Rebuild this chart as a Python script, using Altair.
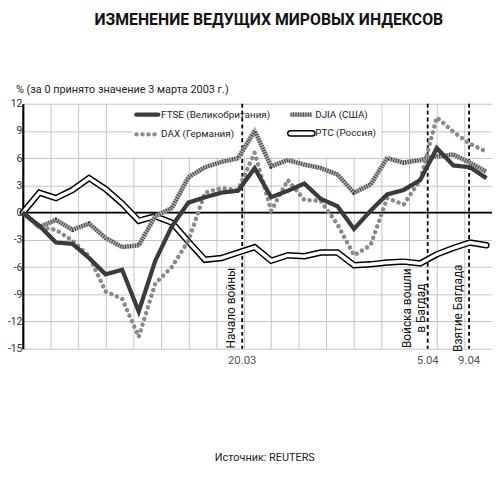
import altair as alt
import pandas as pd

# ---------------- data ----------------
dates = ["3.03", "4.03", "5.03", "6.03", "7.03", "10.03", "11.03", "12.03", "13.03", "14.03",
         "17.03", "18.03", "19.03", "20.03", "21.03", "24.03", "25.03", "26.03", "27.03", "28.03",
         "31.03", "1.04", "2.04", "3.04", "4.04", "7.04", "8.04", "9.04", "10.04"]

ftse = [0, -1.45, -3.3, -3.45, -5.0, -6.8, -6.3, -10.9, -5.3, -1.5,
        1.1, 1.7, 2.2, 2.4, 4.9, 1.7, 2.4, 3.2, 1.5, 0.7,
        -1.8, 0.2, 2.0, 2.5, 3.6, 7.1, 5.2, 5.0, 3.8]
dax = [0, -1.6, -1.9, -3.1, -4.8, -8.7, -9.5, -13.7, -7.8, -6.0,
       -3.1, 2.2, 2.7, 2.5, 6.6, 0.2, 3.6, 1.4, 1.3, -1.3,
       -4.7, -3.6, 1.6, 0.9, 3.6, 10.5, 8.9, 7.6, 6.7]
djia = [0, -1.6, -0.8, -1.9, -1.2, -2.8, -3.8, -3.6, -0.4, 0.5,
        3.9, 5.0, 5.6, 6.0, 9.0, 5.1, 5.8, 5.3, 4.9, 4.2,
        2.2, 3.1, 6.0, 5.5, 5.8, 6.2, 6.4, 5.5, 4.5]
ptc = [0, 2.2, 1.6, 2.5, 3.8, 2.6, 1.0, -0.9, -0.4, -1.1,
       -3.2, -5.2, -5.0, -4.4, -3.8, -5.3, -4.7, -4.8, -4.4, -4.4,
       -5.8, -5.7, -5.5, -5.4, -5.6, -4.6, -3.9, -3.3, -3.6]

series_keys = ["FTSE", "DAX", "DJIA", "PTC"]
series_names = ["FTSE (Великобритания)", "DAX (Германия)", "DJIA (США)", "PTC (Россия)"]

event_pos = [13.25, 24.45, 26.95]
event_dates = ["20.03", "5.04", "9.04"]
event_texts = ["Начало войны", "Войска вошли\nв Багдад", "Взятие Багдада"]

y_ticks = [-15, -12, -9, -6, -3, 0, 3, 6, 9, 12]
x_columns = 17
x_max = 85 / 3

title_text = ["ИЗМЕНЕНИЕ ВЕДУЩИХ МИРОВЫХ ИНДЕКСОВ"]
subtitle_text = ["% (за 0 принято значение 3 марта 2003 г.)"]
source_text = ["Источник: REUTERS"]

# ---------------- tables ----------------
rows = []
for i, d in enumerate(dates):
    for key, vals in zip(series_keys, [ftse, dax, djia, ptc]):
        rows.append({"i": i, "date": d, "series": key, "v": vals[i]})
df = pd.DataFrame(rows)
events = pd.DataFrame({"pos": event_pos, "date": event_dates, "label": event_texts})

W, H = 475, 248
LEFT, TOP = 15, 94
FONT = "Roboto, Liberation Sans, sans-serif"
GRID = "#c4c4c4"

x_scale = alt.Scale(domain=[0, x_max], nice=False, zero=False)
y_scale = alt.Scale(domain=[-15, 12], nice=False, zero=False)
x_axis = alt.Axis(values=[k * x_max / x_columns for k in range(x_columns + 1)], grid=True,
                  gridColor=GRID, gridWidth=1, labels=False, ticks=False, domain=False, title=None)
y_axis = alt.Axis(values=y_ticks, grid=True, gridColor=GRID, gridWidth=1, ticks=False,
                  domain=True, domainColor="black", domainWidth=2.2, labelFont=FONT,
                  labelFontSize=10.5, labelColor="#333", labelPadding=1,
                  labelExpr="'' + datum.value", title=None)


def X(field):
    return alt.X(field, scale=x_scale, axis=x_axis)


def Y(field):
    return alt.Y(field, scale=y_scale, axis=y_axis)


base = alt.Chart(df)


def series_line(key, **kw):
    return base.transform_filter(alt.datum.series == key).mark_line(**kw).encode(
        x=X("i:Q"), y=Y("v:Q"), order="i:Q")


one = pd.DataFrame({"k": [0]})

legend_bg = alt.Chart(one).mark_rect(color="white").encode(
    x=alt.value(111), x2=alt.value(363), y=alt.value(1.5), y2=alt.value(54))

zero_line = alt.Chart(pd.DataFrame({"z": [0]})).mark_rule(color="black", strokeWidth=1.6).encode(
    y=Y("z:Q"))

event_lines = alt.Chart(events).mark_rule(color="black", strokeWidth=1.8, strokeDash=[4, 3]).encode(
    x=X("pos:Q"))

ptc_outer = series_line("PTC", color="black", strokeWidth=6.5, strokeCap="round")
ptc_inner = series_line("PTC", color="white", strokeWidth=3.5, strokeCap="round")
djia_base = series_line("DJIA", color="#b0b0b0", strokeWidth=4.5)
djia_hatch = series_line("DJIA", color="#404040", strokeWidth=4.5, strokeDash=[1, 1.5])
dax_line = series_line("DAX", color="#8a8a8a", strokeWidth=4.5, strokeDash=[0.1, 6], strokeCap="round")
ftse_line = series_line("FTSE", color="#3b3b3b", strokeWidth=4.3)


def sym(x0, y0, **kw):
    return alt.Chart(one).mark_rule(**kw).encode(
        x=alt.value(x0), x2=alt.value(x0 + 22), y=alt.value(y0), y2=alt.value(y0))


def legend_text(k, x0, y0):
    return alt.Chart(pd.DataFrame({"t": [series_names[k]]})).mark_text(
        align="left", baseline="middle", font=FONT, fontSize=10, color="#222").encode(
        x=alt.value(x0), y=alt.value(y0), text="t:N")


legend = [
    sym(115, 11, color="#3b3b3b", strokeWidth=4.5, strokeCap="round"),
    legend_text(0, 140, 11),
    sym(115, 31, color="#8a8a8a", strokeWidth=4.5, strokeDash=[0.1, 6], strokeCap="round"),
    legend_text(1, 140, 31),
    sym(271, 11, color="#b0b0b0", strokeWidth=4.5),
    sym(271, 11, color="#404040", strokeWidth=4.5, strokeDash=[1, 1.5]),
    legend_text(2, 296, 11),
    sym(271, 30, color="black", strokeWidth=7, strokeCap="round"),
    sym(271, 30, color="white", strokeWidth=4, strokeCap="round"),
    legend_text(3, 296, 30),
]

label_style = dict(angle=270, align="center", baseline="bottom", font=FONT, fontSize=12,
                   color="#111", lineBreak="\n", lineHeight=14)
event_labels_single = alt.Chart(events).transform_filter(
    "indexof(datum.label, '\\n') < 0").mark_text(dy=-4, **label_style).encode(
    x=X("pos:Q"), y=alt.value(207), text="label:N")
event_labels_multi = alt.Chart(events).transform_filter(
    "indexof(datum.label, '\\n') >= 0").mark_text(dy=-14, **label_style).encode(
    x=X("pos:Q"), y=alt.value(207), text="label:N")

date_labels = alt.Chart(events).mark_text(
    align="center", baseline="middle", font=FONT, fontSize=11.5, color="#555").encode(
    x=X("pos:Q"), y=alt.value(260), text="date:N")

title = alt.Chart(pd.DataFrame({"t": title_text})).mark_text(
    align="center", baseline="top", font=FONT, fontSize=16, fontWeight="bold", color="#111").encode(
    x=alt.value(249), y=alt.value(-93), text="t:N")

subtitle = alt.Chart(pd.DataFrame({"t": subtitle_text})).mark_text(
    align="left", baseline="middle", font=FONT, fontSize=11, color="#222").encode(
    x=alt.value(-7), y=alt.value(-14), text="t:N")

source = alt.Chart(pd.DataFrame({"t": source_text})).mark_text(
    align="center", baseline="middle", font=FONT, fontSize=11, color="#222").encode(
    x=alt.value(245), y=alt.value(359), text="t:N")

chart = alt.layer(
    legend_bg, zero_line, event_lines,
    ptc_outer, ptc_inner, djia_base, djia_hatch, dax_line, ftse_line,
    *legend, event_labels_single, event_labels_multi, date_labels, title, subtitle, source
).properties(
    width=W, height=H,
    autosize=alt.AutoSizeParams(type="none"),
    padding={"left": LEFT, "top": TOP, "right": 0, "bottom": 130},
).configure_view(strokeWidth=0)

chart.save("out.html", embed_options={"renderer": "svg", "actions": False})
